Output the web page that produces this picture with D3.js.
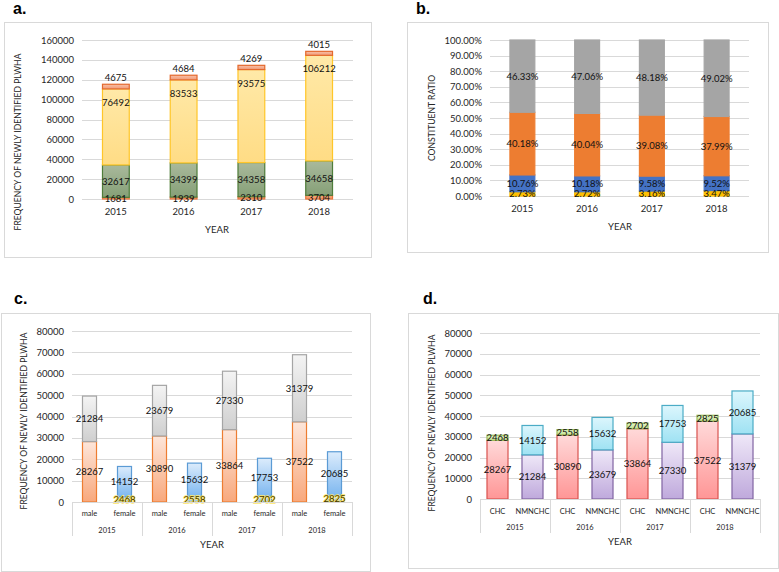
<!DOCTYPE html>
<html>
<head>
<meta charset="utf-8">
<script src="https://cdn.jsdelivr.net/npm/d3@7"></script>
<style>
  body { margin: 0; background: #fff; }
  text { font-family: Lato, "Open Sans", sans-serif; }
</style>
</head>
<body>
<div id="chart"></div>
<script>
// data
var years = ["2015", "2016", "2017", "2018"];

// panel a: frequency by route
var aBottom = [1681, 1939, 2310, 3704];
var aGreen = [32617, 34399, 34358, 34658];
var aYellow = [76492, 83533, 93575, 106212];
var aTop = [4675, 4684, 4269, 4015];
var aTicks = [0, 20000, 40000, 60000, 80000, 100000, 120000, 140000, 160000];

// panel b: constituent ratio (%)
var bYellow = [2.73, 2.72, 3.16, 3.47];
var bBlue = [10.76, 10.18, 9.58, 9.52];
var bOrange = [40.18, 40.04, 39.08, 37.99];
var bGray = [46.33, 47.06, 48.18, 49.02];
var bTicks = [0, 10, 20, 30, 40, 50, 60, 70, 80, 90, 100];

// panel c: by sex
var cSubs = ["male", "female"];
var maleLower = [28267, 30890, 33864, 37522];
var maleUpper = [21284, 23679, 27330, 31379];
var femaleLower = [2468, 2558, 2702, 2825];
var femaleUpper = [14152, 15632, 17753, 20685];

// panel d: by household registration
var dSubs = ["CHC", "NMNCHC"];
var chcLower = [28267, 30890, 33864, 37522];
var chcUpper = [2468, 2558, 2702, 2825];
var nmLower = [21284, 23679, 27330, 31379];
var nmUpper = [14152, 15632, 17753, 20685];
var cdTicks = [0, 10000, 20000, 30000, 40000, 50000, 60000, 70000, 80000];

var W = 779, H = 572;
var svg = d3.select('#chart').append('svg')
    .attr('width', W)
    .attr('height', H);

var defs = svg.append('defs');
function grad(id, top, bottom) {
    var lg = defs.append('linearGradient').attr('id', id)
        .attr('x1', 0).attr('y1', 0).attr('x2', 0).attr('y2', 1);
    lg.append('stop').attr('offset', '0%').attr('stop-color', top);
    lg.append('stop').attr('offset', '100%').attr('stop-color', bottom);
    return 'url(#' + id + ')';
}
var gGreen = grad('gGreen', '#a9b99c', '#86a077');
var gYellow = grad('gYellow', '#ffe9a8', '#ffdc85');
var gTop = grad('gTop', '#f8c0a6', '#f09a78');
var gMale = grad('gMale', '#fde6da', '#f8a87c');
var gGray = grad('gGray', '#f4f4f4', '#cfcfcf');
var gBlue = grad('gBlue', '#dcecfc', '#7db7ef');
var gRed = grad('gRed', '#ffd9d9', '#ff9696');
var gLime = grad('gLime', '#e4f4c8', '#c2e294');
var gPurple = grad('gPurple', '#efe8f8', '#bfa9dc');
var gCyan = grad('gCyan', '#dcf6fd', '#9fe2f3');

function frame(x0, y0, x1, y1) {
    svg.append('rect')
        .attr('x', x0 + 0.5).attr('y', y0 + 0.5)
        .attr('width', x1 - x0).attr('height', y1 - y0)
        .style('fill', 'none')
        .style('stroke', '#d9d9d9');
}

function title(t, x, y) {
    svg.append('text').attr('x', x).attr('y', y)
        .style('font-family', '"Liberation Sans", Arial, sans-serif')
        .style('font-weight', 'bold').style('font-size', '16px')
        .text(t);
}

function yAxis(yScale, ticks, x0, x1, fmt) {
    var g = svg.append('g');
    g.selectAll('line.grid').data(ticks).enter().append('line')
        .attr('x1', x0).attr('x2', x1)
        .attr('y1', function(d) { return Math.round(yScale(d)) + 0.5; })
        .attr('y2', function(d) { return Math.round(yScale(d)) + 0.5; })
        .style('stroke', '#d9d9d9');
    g.selectAll('text').data(ticks).enter().append('text')
        .attr('x', x0 - 8)
        .attr('y', function(d) { return yScale(d) + 3.5; })
        .attr('text-anchor', 'end')
        .style('font-size', '9.5px').style('fill', '#262626')
        .text(fmt);
}

function yTitle(t, x, y) {
    svg.append('text')
        .attr('transform', 'translate(' + x + ',' + y + ') rotate(-90)')
        .attr('text-anchor', 'middle')
        .style('font-size', '8.6px').style('fill', '#262626')
        .text(t);
}

function xTitle(t, x, y) {
    svg.append('text').attr('x', x).attr('y', y)
        .attr('text-anchor', 'middle')
        .style('font-size', '9.5px').style('fill', '#262626')
        .text(t);
}

// draws one stacked column; segs = [{v, fill, stroke, label, pos, halo}]
function column(yScale, x, w, segs) {
    var g = svg.append('g');
    var base = 0;
    segs.forEach(function(s) {
        var y0 = yScale(base), y1 = yScale(base + s.v);
        g.append('rect')
            .attr('x', x + 0.5).attr('y', y1)
            .attr('width', w - 1).attr('height', y0 - y1)
            .style('fill', s.fill)
            .style('stroke', s.stroke).style('stroke-width', 1.2);
        s.y0 = y0; s.y1 = y1;
        base += s.v;
    });
    segs.forEach(function(s) {
        var ly = s.pos === 'above' ? s.y1 - 3
            : s.pos === 'nearTop' ? s.y1 + 17
            : (s.y0 + s.y1) / 2 + 3.5;
        var t = g.append('text')
            .attr('x', x + w / 2).attr('y', ly)
            .attr('text-anchor', 'middle')
            .style('font-size', '9.5px').style('fill', '#111')
            .text(s.label);
        if (s.halo) {
            t.style('fill', '#3d3300').style('stroke', '#ffe866')
                .style('stroke-width', 1.4).style('paint-order', 'stroke');
        }
    });
}

// ---------- panel a ----------
title('a.', 13, 14);
frame(4, 22, 371, 257);
var ya = d3.scaleLinear().domain([0, 160000]).range([199, 40]);
var xa = d3.scaleBand().domain(years).range([82, 353]).paddingInner(0.59).paddingOuter(0.295);
yAxis(ya, aTicks, 82, 353, function(d) { return d; });
years.forEach(function(yr, i) {
    column(ya, xa(yr), xa.bandwidth(), [
        {v: aBottom[i], fill: '#f4a070', stroke: '#e8743b', label: aBottom[i]},
        {v: aGreen[i], fill: gGreen, stroke: '#4f7d3a', label: aGreen[i]},
        {v: aYellow[i], fill: gYellow, stroke: '#ffc629', label: aYellow[i], pos: 'nearTop'},
        {v: aTop[i], fill: gTop, stroke: '#e4692e', label: aTop[i], pos: 'above'}
    ]);
    xTitle(yr, xa(yr) + xa.bandwidth() / 2, 215);
});
yTitle('FREQUENCY OF NEWLY IDENTIFIED PLWHA', 21, 142);
xTitle('YEAR', 217, 233);

// ---------- panel b ----------
title('b.', 416, 14);
frame(407, 22, 768, 252);
var yb = d3.scaleLinear().domain([0, 100]).range([196, 40]);
var xb = d3.scaleBand().domain(years).range([490, 749]).paddingInner(0.6).paddingOuter(0.3);
yAxis(yb, bTicks, 490, 749, function(d) { return d.toFixed(2) + '%'; });
years.forEach(function(yr, i) {
    column(yb, xb(yr), xb.bandwidth(), [
        {v: bYellow[i], fill: '#ffc000', stroke: '#ffc000', label: bYellow[i].toFixed(2) + '%'},
        {v: bBlue[i], fill: '#4472c4', stroke: '#4472c4', label: bBlue[i].toFixed(2) + '%'},
        {v: bOrange[i], fill: '#ed7d31', stroke: '#ed7d31', label: bOrange[i].toFixed(2) + '%'},
        {v: bGray[i], fill: '#a5a5a5', stroke: '#a5a5a5', label: bGray[i].toFixed(2) + '%'}
    ]);
    xTitle(yr, xb(yr) + xb.bandwidth() / 2, 212);
});
yTitle('CONSTITUENT RATIO', 435, 118);
xTitle('YEAR', 620, 230);

// multi-level category axis for c and d
function groupAxis(x0, subs, x1, yBase, ySub, yYear, yEnd) {
    var g = svg.append('g');
    var r = x0.range();
    g.append('line').attr('x1', r[0]).attr('x2', r[1])
        .attr('y1', yBase + 0.5).attr('y2', yBase + 0.5)
        .style('stroke', '#d9d9d9');
    var edges = years.map(function(yr) { return x0(yr); }).concat([r[1]]);
    g.selectAll('line.sep').data(edges).enter().append('line')
        .attr('x1', function(d) { return Math.round(d) + 0.5; })
        .attr('x2', function(d) { return Math.round(d) + 0.5; })
        .attr('y1', yBase).attr('y2', yEnd)
        .style('stroke', '#d9d9d9');
    years.forEach(function(yr) {
        subs.forEach(function(s) {
            g.append('text')
                .attr('x', x0(yr) + x1(s) + x1.bandwidth() / 2).attr('y', ySub)
                .attr('text-anchor', 'middle')
                .style('font-size', '7.5px').style('fill', '#262626')
                .text(s);
        });
        g.append('text')
            .attr('x', x0(yr) + x0.bandwidth() / 2).attr('y', yYear)
            .attr('text-anchor', 'middle')
            .style('font-size', '7.5px').style('fill', '#262626')
            .text(yr);
    });
}

// ---------- panel c ----------
title('c.', 14, 304);
frame(1, 313, 370, 571);
var yc = d3.scaleLinear().domain([0, 80000]).range([502, 331]);
var xc0 = d3.scaleBand().domain(years).range([72, 352]);
var xc1 = d3.scaleBand().domain(cSubs).range([0, xc0.bandwidth()]).paddingInner(0.571).paddingOuter(0.2855);
yAxis(yc, cdTicks, 72, 352, function(d) { return d; });
years.forEach(function(yr, i) {
    column(yc, xc0(yr) + xc1('male'), xc1.bandwidth(), [
        {v: maleLower[i], fill: gMale, stroke: '#ed7d31', label: maleLower[i]},
        {v: maleUpper[i], fill: gGray, stroke: '#a5a5a5', label: maleUpper[i]}
    ]);
    column(yc, xc0(yr) + xc1('female'), xc1.bandwidth(), [
        {v: femaleLower[i], fill: gBlue, stroke: '#5b9bd5', label: femaleLower[i], halo: true},
        {v: femaleUpper[i], fill: gBlue, stroke: '#5b9bd5', label: femaleUpper[i]}
    ]);
});
groupAxis(xc0, cSubs, xc1, 502, 516, 533, 536);
yTitle('FREQUENCY OF NEWLY IDENTIFIED PLWHA', 27, 421);
xTitle('YEAR', 212, 548);

// ---------- panel d ----------
title('d.', 423, 304);
frame(408, 313, 778, 568);
var yd = d3.scaleLinear().domain([0, 80000]).range([499, 333]);
var xd0 = d3.scaleBand().domain(years).range([480, 760]);
var xd1 = d3.scaleBand().domain(dSubs).range([0, xd0.bandwidth()]).paddingInner(0.371).paddingOuter(0.1855);
yAxis(yd, cdTicks, 480, 760, function(d) { return d; });
years.forEach(function(yr, i) {
    column(yd, xd0(yr) + xd1('CHC'), xd1.bandwidth(), [
        {v: chcLower[i], fill: gRed, stroke: '#d9534f', label: chcLower[i]},
        {v: chcUpper[i], fill: gLime, stroke: '#9bbb59', label: chcUpper[i]}
    ]);
    column(yd, xd0(yr) + xd1('NMNCHC'), xd1.bandwidth(), [
        {v: nmLower[i], fill: gPurple, stroke: '#8064a2', label: nmLower[i]},
        {v: nmUpper[i], fill: gCyan, stroke: '#4bacc6', label: nmUpper[i]}
    ]);
});
groupAxis(xd0, dSubs, xd1, 499, 514, 530, 533);
yTitle('FREQUENCY OF NEWLY IDENTIFIED PLWHA', 435, 423);
xTitle('YEAR', 620, 545);
</script>
</body>
</html>
